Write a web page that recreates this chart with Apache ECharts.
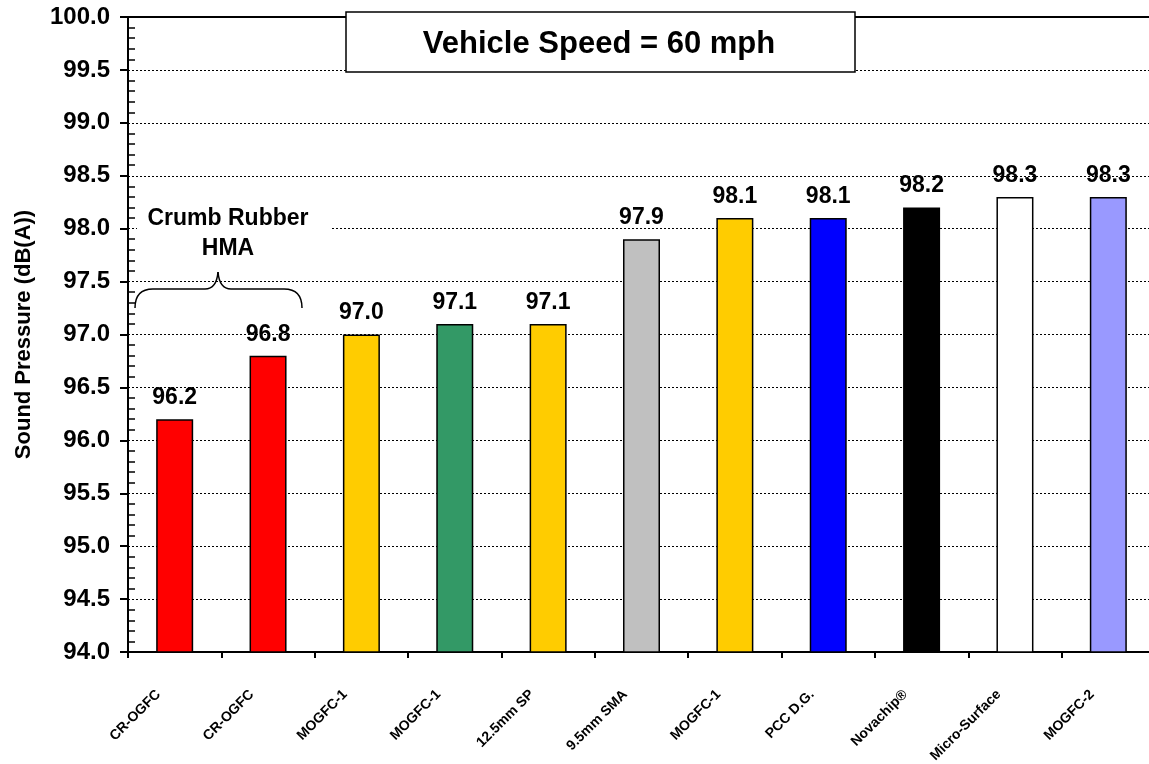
<!DOCTYPE html>
<html>
<head>
<meta charset="utf-8">
<script src="https://cdn.jsdelivr.net/npm/echarts@6/dist/echarts.min.js"></script>
<style>
  html, body { margin: 0; padding: 0; background: #fff; }
  #chart { width: 1149px; height: 764px; }
</style>
</head>
<body>
<div id="chart"></div>
<script>
// surfaces tested at 60 mph
const categories = ['CR-OGFC', 'CR-OGFC', 'MOGFC-1', 'MOGFC-1', '12.5mm SP', '9.5mm SMA',
  'MOGFC-1', 'PCC D.G.', 'Novachip®', 'Micro-Surface', 'MOGFC-2'];
const soundPressure = [96.2, 96.8, 97.0, 97.1, 97.1, 97.9, 98.1, 98.1, 98.2, 98.3, 98.3];
const barColors = ['#ff0000', '#ff0000', '#ffcc00', '#339966', '#ffcc00', '#c0c0c0',
  '#ffcc00', '#0000ff', '#000000', '#ffffff', '#9999ff'];

const font = 'Arial, "Liberation Sans", sans-serif';
let chart = echarts.init(document.getElementById('chart'));

// curly brace pieces for the crumb rubber group
const braceStyle = { fill: 'none', stroke: '#000', lineWidth: 1.5 };
function curve(x1, y1, cpx1, cpy1, cpx2, cpy2, x2, y2) {
  return { type: 'bezierCurve', z: 101, shape: { x1, y1, cpx1, cpy1, cpx2, cpy2, x2, y2 }, style: braceStyle };
}
function seg(x1, y1, x2, y2) {
  return { type: 'line', z: 101, shape: { x1, y1, x2, y2 }, style: braceStyle };
}

let option = {
  animation: false,
  // plot runs a little past the right edge of the picture
  grid: { left: 128, right: -6, top: 17, bottom: 112, outerBoundsMode: 'none' },
  xAxis: {
    type: 'category',
    data: categories,
    axisLine: { lineStyle: { color: '#000', width: 2 } },
    axisTick: { show: true, length: 6, lineStyle: { color: '#000', width: 2 } },
    axisLabel: {
      rotate: 45,
      interval: 0,
      margin: 24,
      padding: [0, 23, 0, 0],
      color: '#000',
      fontFamily: font,
      fontWeight: 'bold',
      fontSize: 14
    }
  },
  yAxis: [
    {
      // major ticks outside, labels, dotted grid
      type: 'value',
      min: 94,
      max: 100,
      interval: 0.5,
      name: 'Sound Pressure (dB(A))',
      nameLocation: 'middle',
      nameGap: 93,
      nameTextStyle: { color: '#000', fontFamily: font, fontWeight: 'bold', fontSize: 22 },
      axisLine: { show: true, lineStyle: { color: '#000', width: 2 } },
      axisTick: { show: true, length: 8, lineStyle: { color: '#000', width: 2 } },
      axisLabel: {
        margin: 18,
        color: '#000',
        fontFamily: font,
        fontWeight: 'bold',
        fontSize: 24,
        formatter: v => v.toFixed(1)
      },
      splitLine: { show: true, lineStyle: { color: '#000', width: 1, type: [2, 2] } }
    },
    {
      // minor ticks point inside
      type: 'value',
      min: 94,
      max: 100,
      interval: 0.5,
      position: 'left',
      axisLine: { show: false },
      axisTick: { show: false, inside: true },
      minorTick: { show: true, splitNumber: 5, length: 7, lineStyle: { color: '#000', width: 1.5 } },
      axisLabel: { show: false },
      splitLine: { show: false }
    }
  ],
  series: [{
    type: 'bar',
    data: soundPressure.map((v, i) => ({
      value: v,
      itemStyle: { color: barColors[i] }
    })),
    barWidth: 37,
    itemStyle: { borderColor: '#000', borderWidth: 1.5 },
    label: {
      show: true,
      position: 'top',
      distance: 10,
      color: '#000',
      fontFamily: font,
      fontWeight: 'bold',
      fontSize: 23,
      formatter: p => p.value.toFixed(1)
    },
    markLine: {
      silent: true,
      symbol: 'none',
      label: { show: false },
      lineStyle: { color: '#000', width: 2, type: 'solid' },
      data: [{ yAxis: 100 }]
    }
  }],
  graphic: [
    // title box
    {
      type: 'rect', z: 100,
      shape: { x: 346, y: 12, width: 509, height: 60 },
      style: { fill: '#fff', stroke: '#000', lineWidth: 1.5 }
    },
    {
      type: 'text', z: 101, x: 599, y: 44,
      style: {
        text: 'Vehicle Speed = 60 mph', fill: '#000',
        font: 'bold 31px ' + font, align: 'center', verticalAlign: 'middle'
      }
    },
    // annotation for crumb rubber group
    {
      type: 'rect', z: 100,
      shape: { x: 137, y: 201, width: 193, height: 62 },
      style: { fill: '#fff' }
    },
    {
      type: 'text', z: 101, x: 228, y: 234,
      style: {
        text: 'Crumb Rubber\nHMA', fill: '#000', lineHeight: 30,
        font: 'bold 23px ' + font, align: 'center', verticalAlign: 'middle'
      }
    },
    curve(135, 308, 135, 296, 140, 289, 153, 289),
    seg(153, 289, 205, 289),
    curve(205, 289, 213, 289, 217, 284, 218, 272),
    curve(218, 272, 219, 284, 223, 289, 231, 289),
    seg(231, 289, 284, 289),
    curve(284, 289, 297, 289, 302, 296, 302, 308)
  ]
};

chart.setOption(option);
</script>
</body>
</html>
